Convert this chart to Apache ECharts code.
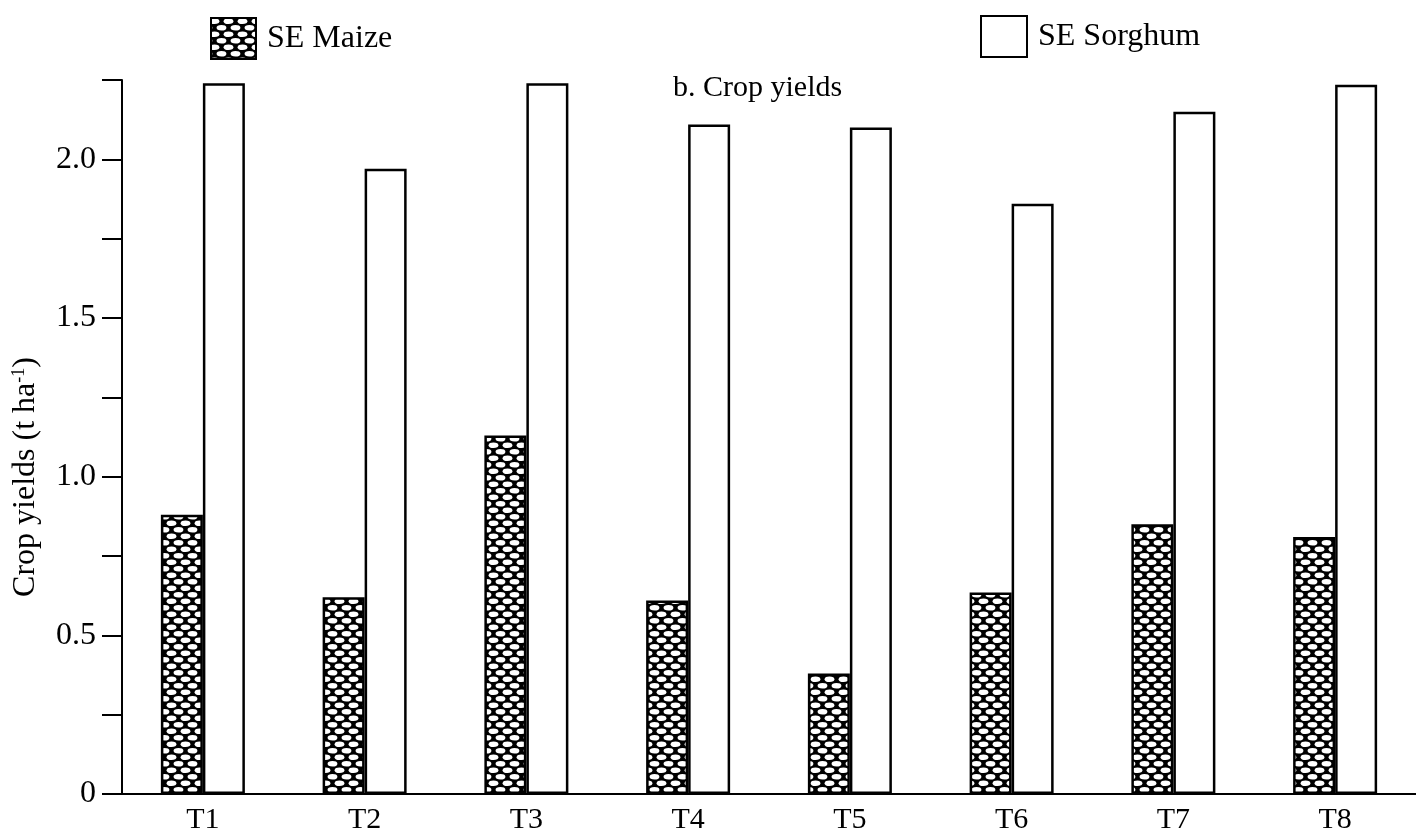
<!DOCTYPE html>
<html>
<head>
<meta charset="utf-8">
<title>Crop yields</title>
<script src="https://cdn.jsdelivr.net/npm/echarts@6/dist/echarts.min.js"></script>
<style>
    html, body { margin: 0; padding: 0; background: #fff; }
    #main { width: 1416px; height: 835px; }
</style>
</head>
<body>
<div id="main"></div>
<script type="text/javascript">
    // data
    var categories = ['T1', 'T2', 'T3', 'T4', 'T5', 'T6', 'T7', 'T8'];
    var maize = [0.88, 0.62, 1.13, 0.61, 0.38, 0.635, 0.85, 0.81];
    var sorghum = [2.24, 1.97, 2.24, 2.11, 2.10, 1.86, 2.15, 2.235];
    var yTicks = [0, 0.5, 1.0, 1.5, 2.0];

    var serif = 'Liberation Serif';

    // crosshatch fill for maize bars: black with white ovals
    var hatch = document.createElement('canvas');
    hatch.width = 14;
    hatch.height = 13;
    var ctx = hatch.getContext('2d');
    ctx.fillStyle = '#000';
    ctx.fillRect(0, 0, 14, 13);
    ctx.fillStyle = '#fff';
    [[3.5, 3.25], [10.5, 9.75], [-3.5, 9.75], [17.5, 3.25], [10.5, -3.25], [3.5, 16.25]].forEach(function (p) {
        ctx.beginPath();
        ctx.ellipse(p[0], p[1], 4.9, 2.8, 0, 0, Math.PI * 2);
        ctx.fill();
    });

    var myChart = echarts.init(document.getElementById('main'));
    var option = {
        backgroundColor: '#fff',
        animation: false,
        title: {
            text: 'b. Crop yields',
            left: 668,
            top: 68,
            textStyle: { fontFamily: serif, fontSize: 30, fontWeight: 'normal', color: '#000' }
        },
        legend: [{
            data: ['SE Maize'],
            left: 205,
            top: 12,
            itemWidth: 45,
            itemHeight: 41,
            icon: 'rect',
            textStyle: { fontFamily: serif, fontSize: 32, color: '#000', padding: [0, 0, 0, 6] }
        }, {
            data: ['SE Sorghum'],
            left: 975,
            top: 10,
            itemWidth: 46,
            itemHeight: 41,
            icon: 'rect',
            textStyle: { fontFamily: serif, fontSize: 32, color: '#000', padding: [0, 0, 0, 6] }
        }],
        grid: {
            left: 122,
            top: 80,
            width: 1302,
            bottom: 40,
            containLabel: false
        },
        xAxis: {
            type: 'category',
            data: categories,
            axisLine: { lineStyle: { color: '#000', width: 2 } },
            axisTick: { show: false },
            axisLabel: { margin: 11, fontFamily: serif, fontSize: 30, color: '#000' }
        },
        yAxis: {
            type: 'value',
            min: 0,
            max: 2.25,
            interval: 0.25,
            name: 'Crop yields (t ha{sup|-1})',
            nameLocation: 'middle',
            nameGap: 80,
            nameTextStyle: {
                fontFamily: serif, fontSize: 32, color: '#000',
                padding: [0, 80, 0, 0],
                rich: { sup: { fontFamily: serif, fontSize: 18, color: '#000', verticalAlign: 'top', padding: [0, 0, 14, 0] } }
            },
            splitLine: { show: false },
            axisLine: { show: true, lineStyle: { color: '#000', width: 2 } },
            axisTick: { show: true, length: 20, lineStyle: { color: '#000', width: 2 } },
            axisLabel: {
                margin: 26,
                fontFamily: serif,
                fontSize: 32,
                color: '#000',
                formatter: function (v) {
                    for (var i = 0; i < yTicks.length; i++) {
                        if (Math.abs(v - yTicks[i]) < 1e-6) {
                            return yTicks[i] === 0 ? '0' : yTicks[i].toFixed(1);
                        }
                    }
                    return '';
                }
            }
        },
        series: [{
            name: 'SE Maize',
            type: 'bar',
            data: maize,
            barWidth: 42,
            barGap: '0%',
            itemStyle: { color: { image: hatch, repeat: 'repeat' }, borderColor: '#000', borderWidth: 2.5 }
        }, {
            name: 'SE Sorghum',
            type: 'bar',
            data: sorghum,
            barWidth: 42,
            barGap: '0%',
            itemStyle: { color: '#fff', borderColor: '#000', borderWidth: 2.5 }
        }]
    };
    myChart.setOption(option);
</script>
</body>
</html>
